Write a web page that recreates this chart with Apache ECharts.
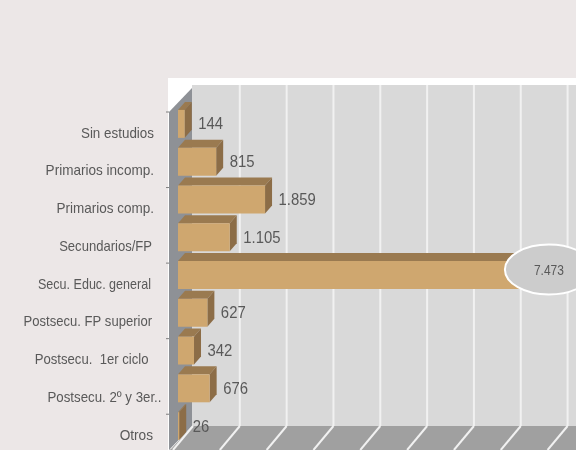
<!DOCTYPE html>
<html><head><meta charset="utf-8">
<style>html,body{margin:0;padding:0;background:#ECE7E7}#c{width:576px;height:450px}</style>
<script src="https://cdn.jsdelivr.net/npm/echarts@6/dist/echarts.min.js"></script>
</head><body><div id="c"></div>
<script>
const categories = ['Sin estudios','Primarios incomp.','Primarios comp.','Secundarios/FP','Secu. Educ. general','Postsecu. FP superior','Postsecu.  1er ciclo','Postsecu. 2º y 3er..','Otros'];
const values = [144,815,1859,1105,7473,627,342,676,26];
const labelInset = [24,24,24,26,27,26,29.5,16.5,25];
const labelScale = [0.894,0.903,0.9,0.87,0.837,0.87,0.875,0.885,0.91];
const gridTicks = [0,1000,2000,3000,4000,5000,6000,7000,8000];
const axisTickCats = [0,2,4,6,8];

const C = {bg:'#ECE7E7',panel:'#FFFFFF',wall:'#D9D9D9',floor:'#A0A0A0',side:'#8E9196',grid:'#F1F1F1',
  front:'#CFA76F',top:'#9A7A50',right:'#8C6D47',text:'#595959',ell:'#CCCCCC'};
const FONT='"Liberation Sans",Arial,sans-serif';
const fmt=v=>String(v).replace(/\B(?=(\d{3})+$)/g,'.');
const BACK={dx:14,dy:-20}, FRONT_LEFT=-9, BAR={dx:7,dy:-8};

const chart=echarts.init(document.getElementById('c'));
const poly=(points,fill,extra)=>Object.assign({type:'polygon',shape:{points},style:{fill}},extra||{});

function renderRoom(p,api){
  const w=api.getWidth(),h=api.getHeight();
  const o=api.coord([0,0]); const band=api.size([0,1])[1];
  const x0=o[0], top=o[1]-band/2;
  const backX=x0+BACK.dx, frontX=x0+FRONT_LEFT;
  const wallTop=top-20, floorY=top+321;
  return {type:'group',children:[
    {type:'rect',shape:{x:frontX-1,y:top-27,width:w,height:h},style:{fill:C.panel}},
    {type:'rect',shape:{x:backX,y:wallTop,width:w,height:floorY-wallTop},style:{fill:C.wall}},
    poly([[backX,floorY],[w,floorY],[w,h],[frontX,h],[frontX+2,h-1]],C.floor),
    poly([[frontX,top+7],[backX,top-17],[backX,floorY],[frontX,floorY+24],[frontX,h]],C.side)
  ]};
}
function renderGrid(p,api){
  const c=api.coord([api.value(0),0]); const band=api.size([0,1])[1];
  const x=c[0]+BACK.dx+1, top=c[1]-band/2, wallTop=top-20, floorY=top+321;
  const kids=[{type:'line',shape:{x1:x,y1:floorY,x2:x-20,y2:floorY+24},style:{stroke:C.grid,lineWidth:2}}];
  if(api.value(0)>0) kids.push({type:'line',shape:{x1:x,y1:wallTop,x2:x,y2:floorY},style:{stroke:C.grid,lineWidth:2}});
  return {type:'group',children:kids};
}
function renderTick(p,api){
  const c=api.coord([0,api.value(0)]); const band=api.size([0,1])[1];
  const y=c[1]-band/2+7, x=c[0]+FRONT_LEFT;
  return {type:'line',shape:{x1:x-3,y1:y,x2:x,y2:y},style:{stroke:'#7F7F7F',lineWidth:1}};
}
function renderCat(p,api){
  const i=api.value(0), c=api.coord([0,i]);
  return {type:'text',x:c[0]-labelInset[i],y:c[1]+9.5,scaleX:labelScale[i],
    style:{text:categories[i],fill:C.text,font:'15px '+FONT,align:'right',verticalAlign:'middle'}};
}
function renderBar(p,api){
  const v=api.value(0), i=api.value(1);
  const a=api.coord([0,i]), b=api.coord([v,i]);
  const band=api.size([0,1])[1], fh=band*0.74;
  const yt=a[1]-fh/2, yb=a[1]+fh/2, x0=a[0], x1=b[0];
  const kids=[
    poly([[x0,yt],[x1,yt],[x1+BAR.dx,yt+BAR.dy],[x0+BAR.dx,yt+BAR.dy]],C.top),
    poly([[x1,yt],[x1+BAR.dx,yt+BAR.dy],[x1+BAR.dx,yb+BAR.dy],[x1,yb]],C.right),
    {type:'rect',shape:{x:x0,y:yt,width:x1-x0,height:yb-yt},style:{fill:C.front}}
  ];
  if(v===Math.max.apply(null,values)){
    kids.push({type:'ellipse',shape:{cx:x1+21,cy:a[1]-5.5,rx:44,ry:25},style:{fill:C.ell,stroke:'#FFFFFF',lineWidth:2}});
    kids.push({type:'text',x:x1+21,y:a[1]-4.5,scaleX:0.8,style:{text:fmt(v),fill:C.text,font:'15px '+FONT,align:'center',verticalAlign:'middle'}});
  } else {
    kids.push({type:'text',x:x1+BAR.dx+6.5,y:a[1]+1,scaleX:0.93,style:{text:fmt(v),fill:C.text,font:'16px '+FONT,align:'left',verticalAlign:'middle'}});
  }
  return {type:'group',children:kids};
}

chart.setOption({
  animation:false,
  backgroundColor:C.bg,
  grid:{left:178,top:105,width:399.5,height:340},
  xAxis:{type:'value',min:0,max:8500,interval:1000,show:false},
  yAxis:{type:'category',inverse:true,data:categories,
    axisLine:{show:false},axisTick:{show:false},axisLabel:{show:false}},
  series:[
    {type:'custom',z:1,silent:true,renderItem:renderRoom,data:[[0,0]],encode:{x:0,y:1}},
    {type:'custom',z:2,silent:true,renderItem:renderGrid,data:gridTicks.map(v=>[v,0]),encode:{x:0,y:1}},
    {type:'custom',z:3,silent:true,renderItem:renderTick,data:axisTickCats.map(i=>[i]),encode:{y:0}},
    {type:'custom',z:3,silent:true,renderItem:renderCat,data:categories.map((_,i)=>[i]),encode:{y:0}},
    {type:'custom',z:4,renderItem:renderBar,data:values.map((v,i)=>[v,i]),encode:{x:0,y:1}}
  ]
});
</script></body></html>
